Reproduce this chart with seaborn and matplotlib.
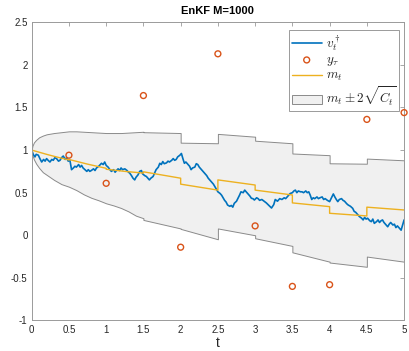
import numpy as np
import matplotlib
matplotlib.use("Agg")
import matplotlib.pyplot as plt
import seaborn as sns

# truth path v_t
v_t = [0.00, 0.02, 0.044, 0.06, 0.089, 0.11, 0.134, 0.16, 0.18, 0.20, 0.22, 0.245, 0.27, 0.29, 0.31,
       0.334, 0.36, 0.38, 0.40, 0.424, 0.45, 0.468, 0.49, 0.513, 0.535, 0.56, 0.58, 0.60, 0.63, 0.65,
       0.67, 0.69, 0.714, 0.74, 0.76, 0.78, 0.80, 0.83, 0.85, 0.87, 0.90, 0.937, 0.96, 0.98, 1.00,
       1.026, 1.05, 1.07, 1.10, 1.12, 1.138, 1.16, 1.18, 1.20, 1.22, 1.25, 1.28, 1.30, 1.316, 1.34,
       1.36, 1.383, 1.40, 1.428, 1.45, 1.473, 1.49, 1.518, 1.54, 1.56, 1.58, 1.60, 1.63, 1.65, 1.67,
       1.70, 1.72, 1.74, 1.76, 1.78, 1.81, 1.83, 1.85, 1.88, 1.90, 1.92, 1.94, 1.96, 1.99, 2.01,
       2.03, 2.05, 2.07, 2.10, 2.12, 2.14, 2.16, 2.19, 2.21, 2.23, 2.25, 2.28, 2.30, 2.32, 2.35,
       2.37, 2.39, 2.41, 2.44, 2.46, 2.48, 2.50, 2.53, 2.55, 2.57, 2.59, 2.61, 2.63, 2.66, 2.68,
       2.70, 2.72, 2.75, 2.77, 2.79, 2.81, 2.84, 2.86, 2.88, 2.90, 2.93, 2.95, 2.97, 2.99, 3.02,
       3.04, 3.06, 3.09, 3.12, 3.15, 3.18, 3.20, 3.22, 3.25, 3.27, 3.30, 3.33, 3.36, 3.39, 3.41,
       3.43, 3.45, 3.47, 3.50, 3.52, 3.54, 3.56, 3.58, 3.61, 3.63, 3.65, 3.68, 3.70, 3.72, 3.74,
       3.76, 3.78, 3.80, 3.83, 3.85, 3.87, 3.90, 3.92, 3.94, 3.97, 4.00, 4.02, 4.05, 4.07, 4.09,
       4.11, 4.13, 4.16, 4.18, 4.20, 4.23, 4.25, 4.28, 4.31, 4.33, 4.35, 4.38, 4.40, 4.43, 4.45,
       4.47, 4.49, 4.51, 4.54, 4.56, 4.58, 4.60, 4.63, 4.65, 4.67, 4.69, 4.71, 4.73, 4.76, 4.78,
       4.80, 4.82, 4.85, 4.87, 4.89, 4.91, 4.94, 4.96, 4.98, 5.00]
v_vals = [1.00, 0.95, 0.92, 0.95, 0.94, 0.90, 0.86, 0.89, 0.87, 0.90, 0.88, 0.86, 0.89, 0.88, 0.91,
          0.90, 0.87, 0.88, 0.91, 0.93, 0.89, 0.91, 0.87, 0.88, 0.77, 0.79, 0.81, 0.80, 0.83, 0.80,
          0.82, 0.79, 0.77, 0.75, 0.77, 0.75, 0.76, 0.78, 0.76, 0.79, 0.81, 0.845, 0.83, 0.86, 0.82,
          0.80, 0.77, 0.75, 0.77, 0.74, 0.76, 0.78, 0.76, 0.79, 0.77, 0.78, 0.76, 0.74, 0.73, 0.70,
          0.67, 0.65, 0.68, 0.71, 0.75, 0.76, 0.72, 0.70, 0.69, 0.67, 0.65, 0.67, 0.69, 0.73, 0.77,
          0.80, 0.845, 0.83, 0.865, 0.84, 0.85, 0.87, 0.86, 0.88, 0.90, 0.88, 0.89, 0.92, 0.94, 0.96,
          0.90, 0.845, 0.86, 0.83, 0.81, 0.77, 0.79, 0.80, 0.84, 0.83, 0.80, 0.77, 0.75, 0.73, 0.70,
          0.67, 0.65, 0.63, 0.60, 0.57, 0.54, 0.51, 0.49, 0.47, 0.44, 0.41, 0.39, 0.355, 0.34, 0.35,
          0.33, 0.375, 0.40, 0.434, 0.47, 0.51, 0.50, 0.53, 0.51, 0.49, 0.46, 0.434, 0.43, 0.414, 0.44,
          0.43, 0.41, 0.42, 0.40, 0.38, 0.355, 0.34, 0.32, 0.36, 0.42, 0.40, 0.43, 0.42, 0.44, 0.43,
          0.45, 0.47, 0.49, 0.50, 0.52, 0.53, 0.50, 0.52, 0.51, 0.51, 0.50, 0.52, 0.50, 0.51, 0.47,
          0.42, 0.44, 0.43, 0.45, 0.43, 0.44, 0.45, 0.42, 0.43, 0.41, 0.395, 0.43, 0.485, 0.45, 0.42,
          0.395, 0.42, 0.43, 0.41, 0.40, 0.37, 0.355, 0.34, 0.316, 0.28, 0.27, 0.24, 0.22, 0.20, 0.18,
          0.21, 0.19, 0.20, 0.17, 0.16, 0.19, 0.14, 0.16, 0.18, 0.15, 0.17, 0.18, 0.15, 0.12, 0.10,
          0.13, 0.15, 0.12, 0.13, 0.09, 0.11, 0.08, 0.06, 0.12, 0.18]

# observations y_tau
obs_t = [0.5, 1.0, 1.5, 2.0, 2.5, 3.0, 3.5, 4.0, 4.5, 5.0]
obs_y = [0.94, 0.61, 1.64, -0.14, 2.13, 0.11, -0.60, -0.58, 1.36, 1.44]

# EnKF mean m_t (jumps at observation times)
m_t = [0.0, 0.1, 0.2, 0.3, 0.4, 0.5, 0.5, 0.75, 1.0, 1.0, 1.25, 1.5, 1.5, 2.0, 2.0,
       2.5, 2.5, 3.0, 3.0, 3.5, 3.5, 4.0, 4.0, 4.5, 4.5, 5.0]
m_vals = [1.0, 0.975, 0.95, 0.927, 0.905, 0.884, 0.89, 0.835, 0.786, 0.775, 0.75, 0.73, 0.745, 0.67, 0.60,
          0.53, 0.65, 0.59, 0.53, 0.473, 0.38, 0.336, 0.258, 0.227, 0.33, 0.297]

# band m_t +/- 2 sqrt(C_t)
band_t = [0.0, 0.01, 0.03, 0.06, 0.1, 0.15, 0.2, 0.3, 0.4, 0.5, 0.6, 0.7, 0.8, 0.9, 1.0,
          1.1, 1.2, 1.3, 1.4, 1.5, 1.5, 2.0, 2.0, 2.5, 2.5, 3.0, 3.0, 3.5, 3.5, 4.0, 4.0,
          4.5, 4.5, 5.0]
band_hi = [1.0, 1.05, 1.09, 1.12, 1.15, 1.17, 1.185, 1.20, 1.21, 1.22, 1.22, 1.215, 1.21, 1.205, 1.20,
           1.20, 1.20, 1.205, 1.21, 1.215, 1.21, 1.20, 1.087, 1.08, 1.19, 1.157, 1.11, 1.08, 0.96, 0.94, 0.845,
           0.84, 0.90, 0.88]
band_lo = [1.0, 0.94, 0.89, 0.84, 0.79, 0.74, 0.71, 0.65, 0.60, 0.57, 0.53, 0.48, 0.44, 0.41, 0.375,
           0.35, 0.32, 0.28, 0.23, 0.20, 0.18, 0.08, 0.075, -0.047, 0.08, 0.0, -0.035, -0.125, -0.2, -0.31, -0.32,
           -0.37, -0.25, -0.31]

xticks = [0, 0.5, 1, 1.5, 2, 2.5, 3, 3.5, 4, 4.5, 5]
xtick_labels = ["0", "0.5", "1", "1.5", "2", "2.5", "3", "3.5", "4", "4.5", "5"]
yticks = [-1, -0.5, 0, 0.5, 1, 1.5, 2, 2.5]
ytick_labels = ["-1", "-0.5", "0", "0.5", "1", "1.5", "2", "2.5"]

sns.set_style("white")
plt.rcParams['font.family'] = ['Liberation Sans', 'DejaVu Sans']
plt.rcParams['mathtext.fontset'] = 'cm'

fig = plt.figure(figsize=(4.09, 3.51), dpi=100)
ax = fig.add_axes([0.0775, 0.087, 0.9105, 0.8495])

band = ax.fill_between(band_t, band_lo, band_hi, facecolor='#f0f0f0', edgecolor='#8a8a8a',
                       linewidth=0.7, label=r'$m_t \pm 2\sqrt{C_t}$')
sns.lineplot(x=v_t, y=v_vals, color='#0072BD', linewidth=1.2, estimator=None, sort=False,
             label=r'$v_t^\dagger$', ax=ax)
sns.lineplot(x=m_t, y=m_vals, color='#EDB120', linewidth=1.0, estimator=None, sort=False,
             label=r'$m_t$', ax=ax)
sns.scatterplot(x=obs_t, y=obs_y, marker='o', s=18, facecolor='none', edgecolor='#D95319',
                linewidth=1.0, label=r'$y_\tau$', ax=ax, zorder=5, clip_on=False)

ax.set_xlim(0, 5)
ax.set_ylim(-1, 2.5)
ax.set_xticks(xticks)
ax.set_xticklabels(xtick_labels)
ax.set_yticks(yticks)
ax.set_yticklabels(ytick_labels)
ax.tick_params(direction='in', length=3, width=0.6, colors='#9a9a9a', labelcolor='#262626',
               labelsize=7, top=True, right=True, pad=3)
for s in ax.spines.values():
    s.set_color('#9a9a9a')
    s.set_linewidth(0.7)

ax.set_xlabel('t', fontsize=10, color='#262626', labelpad=1)
ax.set_title('EnKF M=1000', fontsize=8, fontweight='bold', color='#000000', pad=6)

h, l = ax.get_legend_handles_labels()
order = [l.index(r'$v_t^\dagger$'), l.index(r'$y_\tau$'), l.index(r'$m_t$'), l.index(r'$m_t \pm 2\sqrt{C_t}$')]
leg = ax.legend([h[i] for i in order], [l[i] for i in order], loc='upper right',
                bbox_to_anchor=(0.987, 0.974), fontsize=9.5, frameon=True, fancybox=False,
                edgecolor='#9a9a9a', framealpha=1, handlelength=2.3, labelspacing=0.12,
                borderpad=0.22, handletextpad=0.3, borderaxespad=0)
leg.get_frame().set_linewidth(0.7)

fig.savefig('out.png', dpi=100)
